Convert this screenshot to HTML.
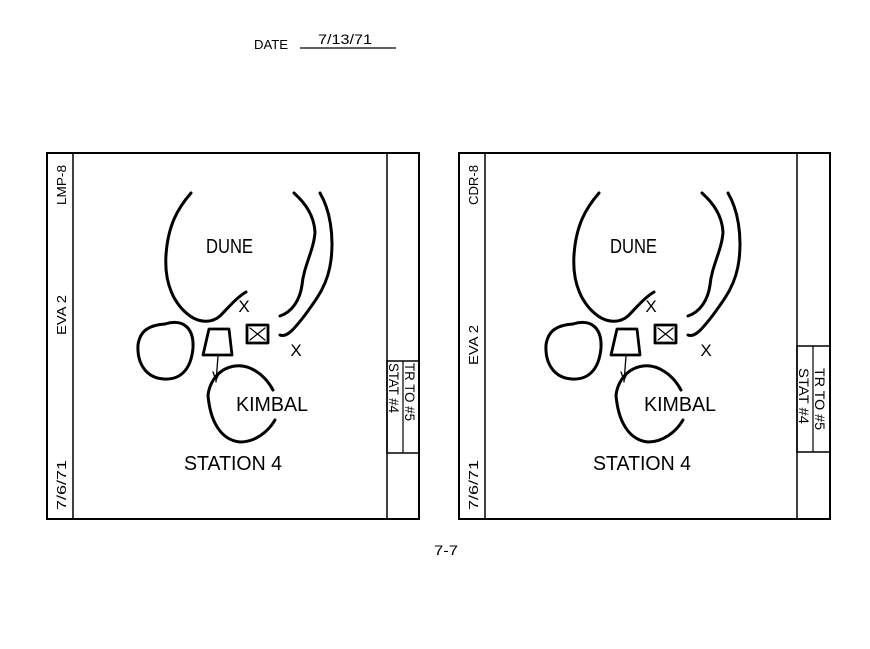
<!DOCTYPE html>
<html><head><style>
html,body{margin:0;padding:0;background:#fff;}
svg{display:block;}
text{font-family:"Liberation Sans",sans-serif;fill:#000;}
</style></head><body>
<svg width="870" height="649" viewBox="0 0 870 649" xmlns="http://www.w3.org/2000/svg">
<text x="254" y="49" font-size="13" textLength="34" lengthAdjust="spacingAndGlyphs">DATE</text>
<text x="318" y="44" font-size="14" textLength="54" lengthAdjust="spacingAndGlyphs">7/13/71</text>
<line x1="300" y1="48" x2="396" y2="48" stroke="#000" stroke-width="1.2"/>
<text x="434" y="555" font-size="14" textLength="24" lengthAdjust="spacingAndGlyphs">7-7</text>

<defs>
<g id="map" fill="none" stroke="#000" stroke-width="3" stroke-linecap="round" stroke-linejoin="round">
  <path d="M191,193 C178,208 168,225 166,255 C164,285 175,305 190,316 C200,323 212,323 220,316 C228,308 236,298 246,292"/>
  <path d="M294,193 C305,203 314,215 315,232 C314,250 304,265 302,285 C300,300 292,312 280,316"/>
  <path d="M320,193 C330,210 334,235 331,260 C328,285 316,300 305,315 C295,328 287,338 280,335"/>
  <path d="M165,324 C185,318 194,330 193,348 C191,370 180,380 164,379 C145,378 137,362 138,345 C140,330 150,325 165,324 Z"/>
  <path d="M273,390 C265,375 250,364 235,366 C220,368 210,380 208,395 C210,420 220,440 240,442 C255,442 268,432 275,420"/>
  <path d="M209,329 L229,329 L232,355 L203,355 Z" stroke-width="2.8"/>
  <rect x="247" y="325" width="21" height="18" stroke-width="2.8"/>
  <path d="M250,328 L265,340 M265,328 L250,340" stroke-width="1.2"/>
  <path d="M218,356 L216,382 M213,372 L216,380 L220,372" stroke-width="1.3"/>
</g>
</defs>

<!-- Left panel -->
<rect x="47" y="153" width="372" height="366" fill="none" stroke="#000" stroke-width="2"/>
<line x1="73" y1="153" x2="73" y2="519" stroke="#000" stroke-width="1.5"/>
<line x1="387" y1="153" x2="387" y2="519" stroke="#000" stroke-width="1.5"/>
<rect x="387" y="361" width="32" height="92" fill="none" stroke="#000" stroke-width="1.5"/>
<line x1="403" y1="361" x2="403" y2="453" stroke="#000" stroke-width="1.2"/>
<use href="#map"/>
<text x="206" y="253" font-size="20" textLength="47" lengthAdjust="spacingAndGlyphs">DUNE</text>
<text x="236" y="411" font-size="20" textLength="72" lengthAdjust="spacingAndGlyphs">KIMBAL</text>
<text x="184" y="470" font-size="20" textLength="98" lengthAdjust="spacingAndGlyphs">STATION 4</text>
<text x="244" y="312" font-size="17" text-anchor="middle">X</text>
<text x="296" y="356" font-size="17" text-anchor="middle">X</text>
<text transform="translate(66,205) rotate(-90)" font-size="13" textLength="40" lengthAdjust="spacingAndGlyphs">LMP-8</text>
<text transform="translate(66,335) rotate(-90)" font-size="13" textLength="40" lengthAdjust="spacingAndGlyphs">EVA 2</text>
<text transform="translate(66,510) rotate(-90)" font-size="13" textLength="50" lengthAdjust="spacingAndGlyphs">7/6/71</text>
<text transform="translate(405,363) rotate(90)" font-size="14" textLength="58" lengthAdjust="spacingAndGlyphs">TR TO #5</text>
<text transform="translate(389,363) rotate(90)" font-size="14" textLength="50" lengthAdjust="spacingAndGlyphs">STAT #4</text>

<!-- Right panel -->
<rect x="459" y="153" width="371" height="366" fill="none" stroke="#000" stroke-width="2"/>
<line x1="485" y1="153" x2="485" y2="519" stroke="#000" stroke-width="1.5"/>
<line x1="797" y1="153" x2="797" y2="519" stroke="#000" stroke-width="1.5"/>
<rect x="797" y="346" width="33" height="106" fill="none" stroke="#000" stroke-width="1.5"/>
<line x1="813" y1="346" x2="813" y2="452" stroke="#000" stroke-width="1.2"/>
<use href="#map" transform="translate(408,0)"/>
<text x="610" y="253" font-size="20" textLength="47" lengthAdjust="spacingAndGlyphs">DUNE</text>
<text x="644" y="411" font-size="20" textLength="72" lengthAdjust="spacingAndGlyphs">KIMBAL</text>
<text x="593" y="470" font-size="20" textLength="98" lengthAdjust="spacingAndGlyphs">STATION 4</text>
<text x="651" y="312" font-size="17" text-anchor="middle">X</text>
<text x="706" y="356" font-size="17" text-anchor="middle">X</text>
<text transform="translate(478,205) rotate(-90)" font-size="13" textLength="40" lengthAdjust="spacingAndGlyphs">CDR-8</text>
<text transform="translate(478,365) rotate(-90)" font-size="13" textLength="40" lengthAdjust="spacingAndGlyphs">EVA 2</text>
<text transform="translate(478,510) rotate(-90)" font-size="13" textLength="50" lengthAdjust="spacingAndGlyphs">7/6/71</text>
<text transform="translate(815,368) rotate(90)" font-size="14" textLength="62" lengthAdjust="spacingAndGlyphs">TR TO #5</text>
<text transform="translate(799,368) rotate(90)" font-size="14" textLength="56" lengthAdjust="spacingAndGlyphs">STAT #4</text>
</svg>
</body></html>
